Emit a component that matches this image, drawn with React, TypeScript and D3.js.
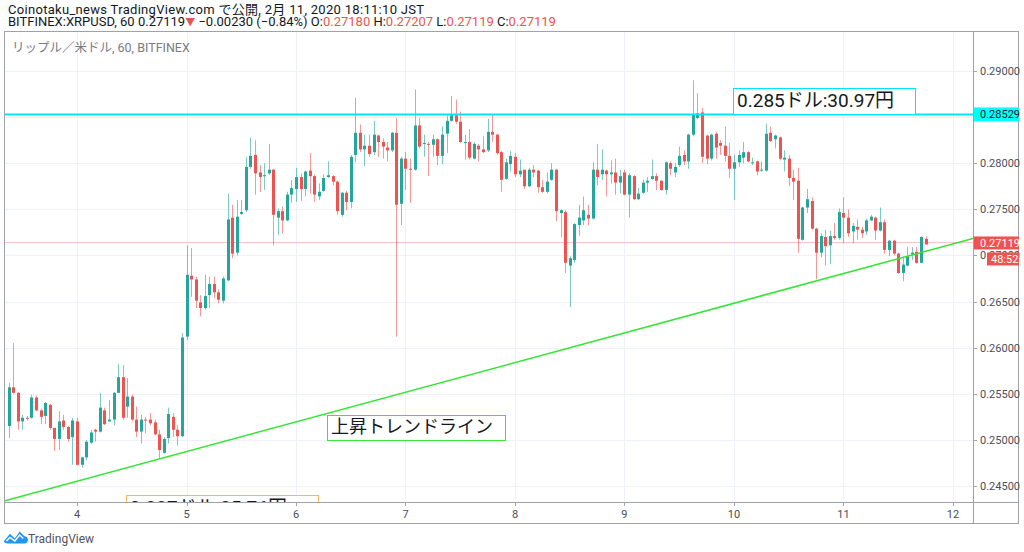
import React from 'react';
import * as d3 from 'd3';

// hourly candles, first one is Feb 3 09:00 JST
const opens = [
  0.2515, 0.2557, 0.2551, 0.2520, 0.2524, 0.2524, 0.2546, 0.2532, 0.2526, 0.2538,
  0.2513, 0.2501, 0.2521, 0.2514, 0.2503, 0.2520, 0.2473, 0.2481, 0.2497, 0.2511,
  0.2509, 0.2532, 0.2520, 0.2522, 0.2551, 0.2568, 0.2536, 0.2547, 0.2522, 0.2509,
  0.2522, 0.2522, 0.2519, 0.2506, 0.2486, 0.2502, 0.2525, 0.2511, 0.2504, 0.2612,
  0.2678, 0.2674, 0.2649, 0.2643, 0.2657, 0.2669, 0.2660, 0.2651, 0.2673, 0.2741,
  0.2703, 0.2745, 0.2749, 0.2796, 0.2809, 0.2790, 0.2786, 0.2789, 0.2793, 0.2741,
  0.2748, 0.2738, 0.2766, 0.2772, 0.2785, 0.2772, 0.2792, 0.2786, 0.2764, 0.2770,
  0.2785, 0.2786, 0.2780, 0.2744, 0.2768, 0.2758, 0.2809, 0.2833, 0.2815, 0.2819,
  0.2812, 0.2830, 0.2823, 0.2817, 0.2814, 0.2833, 0.2756, 0.2805, 0.2794, 0.2793,
  0.2841, 0.2821, 0.2821, 0.2820, 0.2826, 0.2808, 0.2832, 0.2846, 0.2852, 0.2845,
  0.2822, 0.2823, 0.2805, 0.2819, 0.2815, 0.2814, 0.2834, 0.2831, 0.2812, 0.2783,
  0.2799, 0.2807, 0.2788, 0.2793, 0.2775, 0.2793, 0.2792, 0.2774, 0.2769, 0.2782,
  0.2793, 0.2746, 0.2747, 0.2689, 0.2695, 0.2733, 0.2738, 0.2744, 0.2740, 0.2793,
  0.2788, 0.2792, 0.2788, 0.2790, 0.2779, 0.2790, 0.2766, 0.2786, 0.2761, 0.2768,
  0.2779, 0.2783, 0.2786, 0.2781, 0.2771, 0.2800, 0.2790, 0.2798, 0.2809, 0.2802,
  0.2831, 0.2849, 0.2855, 0.2830, 0.2805, 0.2832, 0.2822, 0.2819, 0.2808, 0.2794,
  0.2801, 0.2806, 0.2812, 0.2800, 0.2802, 0.2792, 0.2792, 0.2833, 0.2826, 0.2828,
  0.2804, 0.2805, 0.2784, 0.2781, 0.2717, 0.2752, 0.2759, 0.2729, 0.2703, 0.2720,
  0.2711, 0.2721, 0.2719, 0.2746, 0.2741, 0.2726, 0.2731, 0.2728, 0.2726, 0.2738,
  0.2741, 0.2727, 0.2736, 0.2706, 0.2716, 0.2702, 0.2681, 0.2689, 0.2701, 0.2704,
  0.2692, 0.27180,
];
const highs = [
  0.2562, 0.2605, 0.2552, 0.2527, 0.2526, 0.2549, 0.2548, 0.2534, 0.2541, 0.2539,
  0.2513, 0.2531, 0.2527, 0.2515, 0.2524, 0.2524, 0.2482, 0.2500, 0.2511, 0.2512,
  0.2551, 0.2535, 0.2543, 0.2552, 0.2582, 0.2581, 0.2567, 0.2549, 0.2536, 0.2527,
  0.2525, 0.2529, 0.2522, 0.2511, 0.2503, 0.2535, 0.2529, 0.2516, 0.2616, 0.2711,
  0.2708, 0.2677, 0.2657, 0.2679, 0.2677, 0.2677, 0.2663, 0.2677, 0.2767, 0.2755,
  0.2760, 0.2760, 0.2807, 0.2828, 0.2825, 0.2798, 0.2800, 0.2821, 0.2794, 0.2751,
  0.2753, 0.2769, 0.2782, 0.2795, 0.2789, 0.2792, 0.2811, 0.2788, 0.2778, 0.2788,
  0.2802, 0.2787, 0.2781, 0.2769, 0.2770, 0.2809, 0.2871, 0.2842, 0.2831, 0.2831,
  0.2846, 0.2831, 0.2827, 0.2823, 0.2834, 0.2849, 0.2807, 0.2812, 0.2805, 0.2880,
  0.2849, 0.2831, 0.2823, 0.2831, 0.2827, 0.2840, 0.2852, 0.2873, 0.2869, 0.2856,
  0.2831, 0.2837, 0.2823, 0.2821, 0.2829, 0.2848, 0.2852, 0.2832, 0.2813, 0.2805,
  0.2813, 0.2811, 0.2804, 0.2793, 0.2795, 0.2798, 0.2793, 0.2782, 0.2790, 0.2800,
  0.2794, 0.2750, 0.2749, 0.2699, 0.2735, 0.2755, 0.2764, 0.2755, 0.2801, 0.2821,
  0.2815, 0.2793, 0.2803, 0.2805, 0.2793, 0.2793, 0.2789, 0.2787, 0.2773, 0.2782,
  0.2785, 0.2804, 0.2789, 0.2782, 0.2802, 0.2802, 0.2800, 0.2818, 0.2814, 0.2832,
  0.2890, 0.2876, 0.2860, 0.2831, 0.2832, 0.2834, 0.2825, 0.2840, 0.2822, 0.2809,
  0.2814, 0.2823, 0.2813, 0.2806, 0.2803, 0.2802, 0.2843, 0.2840, 0.2831, 0.2829,
  0.2814, 0.2809, 0.2793, 0.2795, 0.2753, 0.2772, 0.2763, 0.2730, 0.2724, 0.2728,
  0.2727, 0.2735, 0.2751, 0.2763, 0.2750, 0.2735, 0.2739, 0.2731, 0.2740, 0.2744,
  0.2742, 0.2752, 0.2739, 0.2717, 0.2717, 0.2703, 0.2699, 0.2709, 0.2709, 0.2709,
  0.2721, 0.27207,
];
const lows = [
  0.2502, 0.2550, 0.2511, 0.2511, 0.2521, 0.2523, 0.2531, 0.2517, 0.2517, 0.2511,
  0.2488, 0.2489, 0.2511, 0.2498, 0.2473, 0.2472, 0.2470, 0.2478, 0.2496, 0.2498,
  0.2508, 0.2516, 0.2520, 0.2516, 0.2551, 0.2522, 0.2524, 0.2520, 0.2503, 0.2496,
  0.2507, 0.2516, 0.2505, 0.2480, 0.2485, 0.2496, 0.2503, 0.2494, 0.2503, 0.2608,
  0.2655, 0.2643, 0.2634, 0.2641, 0.2643, 0.2654, 0.2648, 0.2648, 0.2672, 0.2697,
  0.2700, 0.2744, 0.2747, 0.2794, 0.2766, 0.2769, 0.2771, 0.2787, 0.2711, 0.2722,
  0.2724, 0.2737, 0.2757, 0.2758, 0.2759, 0.2764, 0.2767, 0.2758, 0.2760, 0.2769,
  0.2784, 0.2776, 0.2744, 0.2742, 0.2749, 0.2751, 0.2801, 0.2812, 0.2797, 0.2807,
  0.2809, 0.2807, 0.2805, 0.2802, 0.2812, 0.2612, 0.2733, 0.2771, 0.2757, 0.2792,
  0.2816, 0.2807, 0.2786, 0.2807, 0.2798, 0.2799, 0.2811, 0.2845, 0.2843, 0.2822,
  0.2804, 0.2804, 0.2804, 0.2802, 0.2811, 0.2812, 0.2823, 0.2809, 0.2769, 0.2782,
  0.2791, 0.2785, 0.2785, 0.2772, 0.2774, 0.2785, 0.2768, 0.2768, 0.2767, 0.2781,
  0.2737, 0.2720, 0.2681, 0.2644, 0.2692, 0.2721, 0.2733, 0.2733, 0.2739, 0.2776,
  0.2782, 0.2764, 0.2778, 0.2766, 0.2767, 0.2765, 0.2741, 0.2760, 0.2760, 0.2767,
  0.2769, 0.2782, 0.2771, 0.2770, 0.2766, 0.2787, 0.2785, 0.2796, 0.2798, 0.2794,
  0.2829, 0.2848, 0.2800, 0.2799, 0.2803, 0.2805, 0.2809, 0.2802, 0.2784, 0.2760,
  0.2796, 0.2800, 0.2801, 0.2798, 0.2787, 0.2791, 0.2791, 0.2823, 0.2816, 0.2803,
  0.2791, 0.2775, 0.2760, 0.2703, 0.2716, 0.2746, 0.2728, 0.2674, 0.2698, 0.2689,
  0.2691, 0.2717, 0.2717, 0.2713, 0.2720, 0.2713, 0.2717, 0.2719, 0.2722, 0.2737,
  0.2717, 0.2726, 0.2702, 0.2699, 0.2700, 0.2680, 0.2672, 0.2688, 0.2695, 0.2691,
  0.2692, 0.27119,
];
const closes = [
  0.2557, 0.2551, 0.2520, 0.2524, 0.2523, 0.2546, 0.2532, 0.2525, 0.2540, 0.2513,
  0.2501, 0.2520, 0.2514, 0.2501, 0.2521, 0.2473, 0.2481, 0.2498, 0.2508, 0.2509,
  0.2535, 0.2517, 0.2522, 0.2551, 0.2568, 0.2524, 0.2547, 0.2522, 0.2509, 0.2522,
  0.2521, 0.2518, 0.2506, 0.2489, 0.2501, 0.2528, 0.2511, 0.2504, 0.2611, 0.2679,
  0.2674, 0.2651, 0.2643, 0.2656, 0.2669, 0.2660, 0.2652, 0.2675, 0.2739, 0.2702,
  0.2742, 0.2747, 0.2796, 0.2808, 0.2789, 0.2785, 0.2787, 0.2793, 0.2744, 0.2748,
  0.2738, 0.2766, 0.2773, 0.2785, 0.2772, 0.2791, 0.2786, 0.2766, 0.2769, 0.2784,
  0.2787, 0.2780, 0.2748, 0.2768, 0.2758, 0.2807, 0.2833, 0.2815, 0.2819, 0.2810,
  0.2831, 0.2823, 0.2818, 0.2814, 0.2833, 0.2755, 0.2805, 0.2794, 0.2793, 0.2841,
  0.2818, 0.2822, 0.2820, 0.2826, 0.2808, 0.2831, 0.2846, 0.2852, 0.2845, 0.2823,
  0.2823, 0.2806, 0.2821, 0.2815, 0.2812, 0.2834, 0.2831, 0.2811, 0.2782, 0.2801,
  0.2808, 0.2788, 0.2792, 0.2775, 0.2793, 0.2790, 0.2774, 0.2769, 0.2780, 0.2793,
  0.2748, 0.2749, 0.2692, 0.2697, 0.2734, 0.2741, 0.2749, 0.2740, 0.2793, 0.2785,
  0.2793, 0.2788, 0.2790, 0.2779, 0.2786, 0.2766, 0.2787, 0.2761, 0.2767, 0.2779,
  0.2781, 0.2786, 0.2781, 0.2771, 0.2801, 0.2794, 0.2796, 0.2808, 0.2802, 0.2831,
  0.2853, 0.2854, 0.2807, 0.2805, 0.2831, 0.2817, 0.2819, 0.2808, 0.2794, 0.2801,
  0.2809, 0.2812, 0.2802, 0.2801, 0.2791, 0.2793, 0.2832, 0.2824, 0.2830, 0.2805,
  0.2806, 0.2784, 0.2780, 0.2718, 0.2752, 0.2761, 0.2729, 0.2703, 0.2721, 0.2710,
  0.2721, 0.2719, 0.2747, 0.2741, 0.2724, 0.2732, 0.2728, 0.2724, 0.2738, 0.2742,
  0.2727, 0.2736, 0.2706, 0.2716, 0.2702, 0.2681, 0.2690, 0.2699, 0.2703, 0.2692,
  0.2720, 0.27119,
];

const priceTicks = [0.245, 0.25, 0.255, 0.26, 0.265, 0.27, 0.275, 0.28, 0.285, 0.29];
const lastPrice = 0.27119;
const resistance = 0.28529;
// trend line: [hour offset from first candle, price]
const trendStart = [-1.01, 0.24337];
const trendEnd = [211.4, 0.27184];

const firstCandle = Date.UTC(2020, 1, 3, 9);
const HOUR = 3600e3;
const times = opens.map((_, i) => new Date(firstCandle + i * HOUR));

const font = "Roboto, 'Noto Sans CJK JP', sans-serif";
const UP = '#26a69a';
const DOWN = '#ef5350';

const plot = { left: 4, right: 973, top: 31, bottom: 502 };

function App() {
  const x = d3
    .scaleTime()
    .domain([new Date(firstCandle - 1.01 * HOUR), new Date(firstCandle + 211.4 * HOUR)])
    .range([plot.left, plot.right]);
  const y = d3.scaleLinear().domain([0.243265, 0.294337]).range([plot.bottom, plot.top]);
  const hx = (h: number) => x(new Date(firstCandle + h * HOUR));

  const days = x.ticks(d3.utcDay.every(1)!);
  const dayFmt = d3.utcFormat('%-d');

  const trend = d3.line<number[]>().x(d => hx(d[0])).y(d => y(d[1]));

  const notes = [
    { text: '0.285ドル:30.97円', h0: 158.8, h1: 198.7, top: 0.28816, bottom: resistance, color: '#00e5ff', size: 19 },
    { text: '上昇トレンドライン', h0: 69.8, h1: 108.8, top: 0.2527, bottom: 0.24999, color: '#39e639', size: 18 },
    { text: '0.237ドル:25.76円', h0: 25.7, h1: 67.8, top: 0.24402, bottom: 0.2413, color: '#ffb74d', size: 19 },
  ];

  // 0.28500 sits under the resistance badge
  const axisTicks = priceTicks.filter(p => p !== 0.285);

  return (
    <svg
      width={1024}
      height={552}
      style={{ position: 'absolute', left: 0, top: 0, background: '#fff', fontFamily: font }}
    >
      <defs>
        <clipPath id="plotClip">
          <rect x={plot.left} y={plot.top} width={plot.right - plot.left} height={plot.bottom - plot.top} />
        </clipPath>
      </defs>

      {/* header */}
      <text x={8} y={14} fontSize={13} letterSpacing={0.3} fill="#131722">
        Coinotaku_news TradingView.com で公開, 2月 11, 2020 18:11:10 JST
      </text>
      <text x={8} y={26} fontSize={13} fill="#131722">
        BITFINEX:XRPUSD, 60 0.27119<tspan fill={DOWN} fontSize={10}>▼</tspan> −0.00230 (−0.84%) O:
        <tspan fill={DOWN}>0.27180</tspan> H:<tspan fill={DOWN}>0.27207</tspan> L:
        <tspan fill={DOWN}>0.27119</tspan> C:<tspan fill={DOWN}>0.27119</tspan>
      </text>

      {/* grid */}
      <g stroke="#eef1f8" strokeWidth={1}>
        {priceTicks.map(p => (
          <line key={p} x1={plot.left} x2={plot.right} y1={Math.round(y(p)) + 0.5} y2={Math.round(y(p)) + 0.5} />
        ))}
        {days.map(d => (
          <line key={+d} x1={Math.round(x(d)) + 0.5} x2={Math.round(x(d)) + 0.5} y1={plot.top} y2={plot.bottom} />
        ))}
      </g>

      <text x={12} y={52} fontSize={12.5} fill="#787b86">
        リップル／米ドル, 60, BITFINEX
      </text>

      <g clipPath="url(#plotClip)">
        <line
          x1={plot.left}
          x2={plot.right}
          y1={Math.round(y(lastPrice)) - 1.5}
          y2={Math.round(y(lastPrice)) - 1.5}
          stroke="#f7c5c4"
        />
        {/* candles */}
        {times.map((t, i) => {
          const cx = Math.round(x(t));
          const up = closes[i] >= opens[i];
          const col = up ? UP : DOWN;
          const yo = y(opens[i]);
          const yc = y(closes[i]);
          const top = Math.min(yo, yc);
          const h = Math.max(1, Math.abs(yo - yc));
          return (
            <g key={i}>
              <line x1={cx + 0.5} x2={cx + 0.5} y1={y(highs[i])} y2={y(lows[i])} stroke={col} strokeOpacity={0.6} />
              <rect x={cx - 1} y={top} width={3} height={h} fill={col} />
            </g>
          );
        })}
        <line
          x1={plot.left}
          x2={plot.right}
          y1={y(resistance)}
          y2={y(resistance)}
          stroke="#00e5ff"
          strokeWidth={2}
        />
        <path d={trend([trendStart, trendEnd]) || ''} stroke="#33e633" strokeWidth={1.5} fill="none" />
        {notes.map(n => (
          <g key={n.text}>
            <rect
              x={Math.round(hx(n.h0)) + 0.5}
              y={Math.round(y(n.top)) + 0.5}
              width={Math.round(hx(n.h1) - hx(n.h0))}
              height={Math.round(y(n.bottom) - y(n.top))}
              fill="#fff"
              stroke={n.color}
            />
            <text x={hx(n.h0) + 4} y={y(n.top) + n.size} fontSize={n.size} fill="#131722">
              {n.text}
            </text>
          </g>
        ))}
      </g>

      {/* frame */}
      <g stroke="#9fa2ab" fill="none">
        <rect x={4.5} y={31.5} width={1014} height={492} />
        <line x1={973.5} x2={973.5} y1={31} y2={524} />
        <line x1={4} x2={1019} y1={502.5} y2={502.5} />
      </g>

      {/* price axis */}
      {axisTicks.map(p => (
        <g key={p}>
          <line x1={974} x2={977} y1={Math.round(y(p)) + 0.5} y2={Math.round(y(p)) + 0.5} stroke="#9fa2ab" />
          <text x={980} y={y(p) + 4} fontSize={11} fill="#4a4d57">
            {p.toFixed(5)}
          </text>
        </g>
      ))}
      <rect x={974} y={y(resistance) - 7} width={45} height={14} fill="#00ffff" />
      <text x={980} y={y(resistance) + 4} fontSize={11} fill="#131722">
        {resistance.toFixed(5)}
      </text>
      <rect x={974} y={y(lastPrice) - 8} width={45} height={13} fill={DOWN} />
      <text x={980} y={y(lastPrice) + 2.5} fontSize={11} fill="#fff">
        {lastPrice.toFixed(5)}
      </text>
      <rect x={987} y={y(lastPrice) + 8} width={32} height={13} fill={DOWN} />
      <text x={991} y={y(lastPrice) + 18.5} fontSize={11} fill="#fff">
        48:52
      </text>

      {/* time axis */}
      {days.map(d => (
        <g key={+d}>
          <line x1={Math.round(x(d)) + 0.5} x2={Math.round(x(d)) + 0.5} y1={503} y2={506} stroke="#9fa2ab" />
          <text x={x(d)} y={518} fontSize={11} textAnchor="middle" fill="#4a4d57">
            {dayFmt(d)}
          </text>
        </g>
      ))}

      {/* logo */}
      <g transform="translate(4,529) scale(1.2)">
        <path
          d="M0 10 L5 4 L9 8 L13 2 L17 6 C21 6 21 12 17 12 L3 12 C0 12 0 10 0 10 Z"
          fill="#2196f3"
        />
        <path d="M2 10 L5 7 L9 10 L13 5 L16 8" stroke="#fff" strokeWidth={1.2} fill="none" />
      </g>
      <text x={28} y={543} fontSize={12} fill="#50535e">
        TradingView
      </text>
    </svg>
  );
}

export default App;
